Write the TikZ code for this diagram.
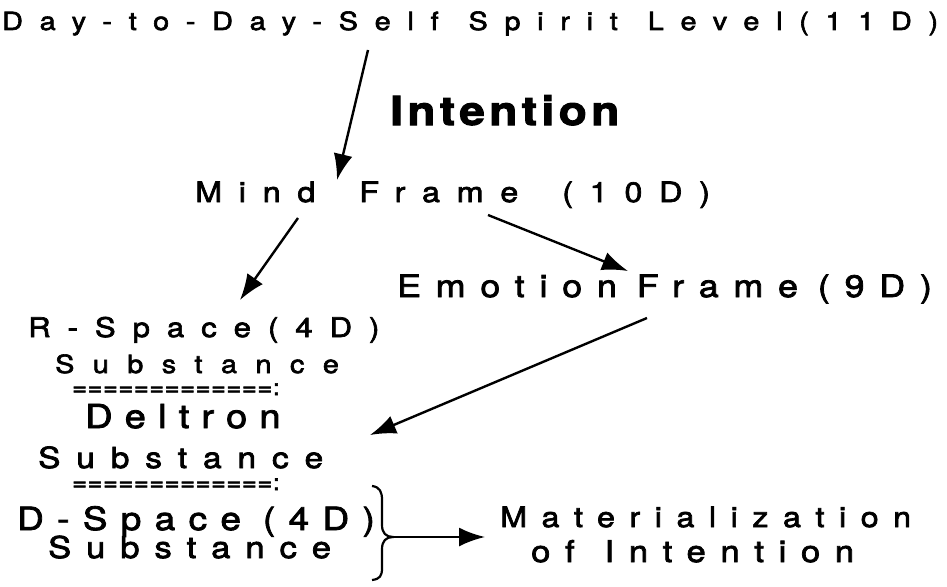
\documentclass[tikz,border=0pt]{standalone}
\usepackage{fontspec}
\usepackage{tikz}
\usetikzlibrary{arrows.meta}
\newfontfamily\helv{TeX Gyre Heros}[FakeStretch=1.15, FakeBold=2.5]
\newcommand\wordgap[1]{\spaceskip=#1pt\relax}
\tikzset{
    txt/.style n args={3}{inner sep=0pt, anchor=base west,
        font=\helv\fontsize{#1}{#1}\selectfont\addfontfeature{LetterSpace=#2},
        execute at begin node={\wordgap{#3}}},
    heavy/.style 2 args={inner sep=0pt, anchor=base west,
        font=\helv\bfseries\fontsize{#1}{#1}\selectfont\addfontfeature{LetterSpace=#2}},
    arr/.style={-{Latex[length=26pt,width=19pt]}, line width=2.4pt},
}
\begin{document}
\begin{tikzpicture}[x=1pt, y=-1pt]
    \useasboundingbox (0,0) rectangle (947,586);
    % Levels
    \node [txt={25}{67}{30}] (spirit) at (2,30) {Day-to-Day-Self Spirit Level(11D)};
    \node [heavy={40}{11}] (intent) at (390,125) {Intention};
    \node [txt={28}{60}{44}] (mind) at (195,202) {Mind Frame (10D)};
    \node [txt={31}{48}{20}] (emotion) at (397,297) {Emotion Frame (9D)};
    % Substance stack
    \node [txt={27}{63}{10}] (rspace) at (28,337) {R-Space(4D)};
    \node [txt={25}{74}{10}] (rsub) at (55,373) {Substance};
    \node [txt={22}{3}{8}] (eqa) at (72,395) {=============:};
    \node [txt={33}{37}{10}] (deltron) at (85,428) {Deltron};
    \node [txt={29}{55}{10}] (dsub) at (38,468) {Substance};
    \node [txt={22}{3}{8}] (eqb) at (72,490) {=============:};
    \node [txt={32}{42}{22}] (dspace) at (17,530) {D-Space (4D)};
    \node [txt={30}{50}{10}] (dspsub) at (48,558) {Substance};
    % Result
    \node [txt={28}{52}{10}] (mater) at (500,527) {Materialization};
    \node [txt={30}{49}{30}] (ofint) at (531,562) {of Intention};
    % Brace
    \coordinate (tip) at (393,537);
    \draw [line width=2.2pt]
        (372,486) .. controls (380,487) and (382,492) .. (382,500)
        -- (382,525) .. controls (382,533) and (386,537) .. (tip)
        .. controls (386,537) and (382,541) .. (382,549)
        -- (382,568) .. controls (382,576) and (380,579) .. (372,580);
    % Arrows
    \draw [arr] ([shift={(366,20)}]spirit.base west) -- ([shift={(142,-22)}]mind.base west);
    \draw [arr] ([shift={(103,16)}]mind.base west) -- ([shift={(212,-37)}]rspace.base west);
    \draw [arr] ([shift={(293,13)}]mind.base west) -- ([shift={(231,-26)}]emotion.base west);
    \draw [arr] ([shift={(250,21)}]emotion.base west) -- ([shift={(285,7)}]deltron.base west);
    \draw [arr] (tip) -- ([shift={(-15,10)}]mater.base west);
\end{tikzpicture}
\end{document}
